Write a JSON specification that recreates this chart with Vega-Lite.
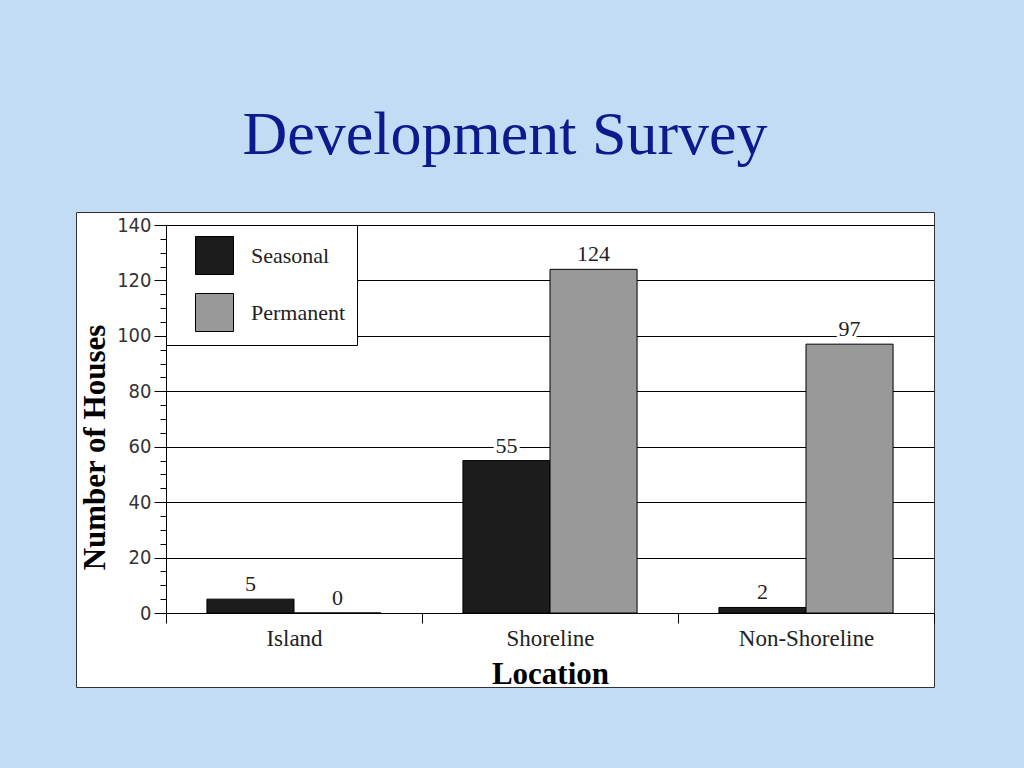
{
  "$schema": "https://vega.github.io/schema/vega-lite/v6.json",
  "width": 858,
  "height": 475,
  "autosize": {"type": "none"},
  "padding": {"left": 76, "top": 212, "right": 90, "bottom": 81},
  "background": "#C2DDF3",
  "view": {"fill": "white", "stroke": "#333333", "strokeWidth": 1},
  "title": {
    "text": "Development Survey",
    "font": "Liberation Serif",
    "fontSize": 62,
    "fontWeight": "normal",
    "color": "#0B1A8C",
    "anchor": "middle",
    "baseline": "alphabetic",
    "offset": -4
  },
  "data": {
    "values": [
      {"Location": "Island", "Type": "Seasonal", "Count": 5},
      {"Location": "Island", "Type": "Permanent", "Count": 0},
      {"Location": "Shoreline", "Type": "Seasonal", "Count": 55},
      {"Location": "Shoreline", "Type": "Permanent", "Count": 124},
      {"Location": "Non-Shoreline", "Type": "Seasonal", "Count": 2},
      {"Location": "Non-Shoreline", "Type": "Permanent", "Count": 97}
    ]
  },
  "encoding": {
    "x": {
      "field": "Location",
      "type": "nominal",
      "sort": ["Island", "Shoreline", "Non-Shoreline"],
      "scale": {"range": [90, 858], "paddingInner": 0, "paddingOuter": 0},
      "axis": {
        "title": "Location",
        "titleFont": "Liberation Serif",
        "titleFontSize": 31,
        "titleFontWeight": "bold",
        "titleColor": "black",
        "titlePadding": 9,
        "labelFont": "Liberation Serif",
        "labelFontSize": 23,
        "labelColor": "#222222",
        "labelAngle": 0,
        "labelPadding": 4,
        "tickBand": "extent",
        "tickSize": 10,
        "tickColor": "black",
        "domainColor": "black",
        "offset": -74,
        "grid": false
      }
    },
    "xOffset": {
      "field": "Type",
      "type": "nominal",
      "sort": ["Seasonal", "Permanent"],
      "scale": {"paddingInner": 0, "paddingOuter": 0.47}
    },
    "y": {
      "field": "Count",
      "type": "quantitative",
      "scale": {"domain": [0, 140], "range": [401, 13], "nice": false, "zero": true},
      "axis": {
        "title": "Number of Houses",
        "titleFont": "Liberation Serif",
        "titleFontSize": 31,
        "titleFontWeight": "bold",
        "titleColor": "black",
        "titlePadding": 5,
        "titleY": 235,
        "values": [0, 5, 10, 15, 20, 25, 30, 35, 40, 45, 50, 55, 60, 65, 70, 75, 80, 85, 90, 95, 100, 105, 110, 115, 120, 125, 130, 135, 140],
        "labelExpr": "datum.value % 20 === 0 ? datum.label : ''",
        "labelFont": "Liberation Sans Narrow, DejaVu Sans Condensed, sans-serif",
        "labelFontSize": 20,
        "labelColor": "#333333",
        "labelPadding": 3,
        "tickSize": {"condition": {"test": "datum.value % 20 === 0", "value": 12}, "value": 6},
        "tickColor": "black",
        "domainColor": "black",
        "grid": true,
        "gridColor": "black",
        "gridWidth": 1,
        "gridOpacity": {"condition": {"test": "datum.value % 20 === 0 && datum.value > 0", "value": 1}, "value": 0},
        "offset": -90
      }
    }
  },
  "layer": [
    {
      "mark": {"type": "bar", "stroke": "black", "strokeWidth": 1},
      "encoding": {
        "color": {
          "field": "Type",
          "type": "nominal",
          "sort": ["Seasonal", "Permanent"],
          "scale": {"domain": ["Seasonal", "Permanent"], "range": ["#1c1c1c", "#999999"]},
          "legend": {
            "title": null,
            "orient": "none",
            "legendX": 90,
            "legendY": 13,
            "padding": 11,
            "symbolType": "square",
            "symbolSize": 1444,
            "symbolStrokeColor": "black",
            "symbolStrokeWidth": 1,
            "symbolOffset": 18,
            "rowPadding": 14,
            "labelOffset": 17,
            "labelFont": "Liberation Serif",
            "labelFontSize": 22,
            "labelColor": "#222222",
            "fillColor": "white",
            "strokeColor": "black",
            "cornerRadius": 0
          }
        }
      }
    },
    {
      "mark": {"type": "text", "baseline": "alphabetic", "dy": -8, "font": "Liberation Serif", "fontSize": 22, "stroke": "white", "strokeWidth": 6, "fill": "white"},
      "encoding": {"text": {"field": "Count", "type": "quantitative"}}
    },
    {
      "mark": {"type": "text", "baseline": "alphabetic", "dy": -8, "font": "Liberation Serif", "fontSize": 22, "fill": "#222222"},
      "encoding": {"text": {"field": "Count", "type": "quantitative"}}
    }
  ]
}
